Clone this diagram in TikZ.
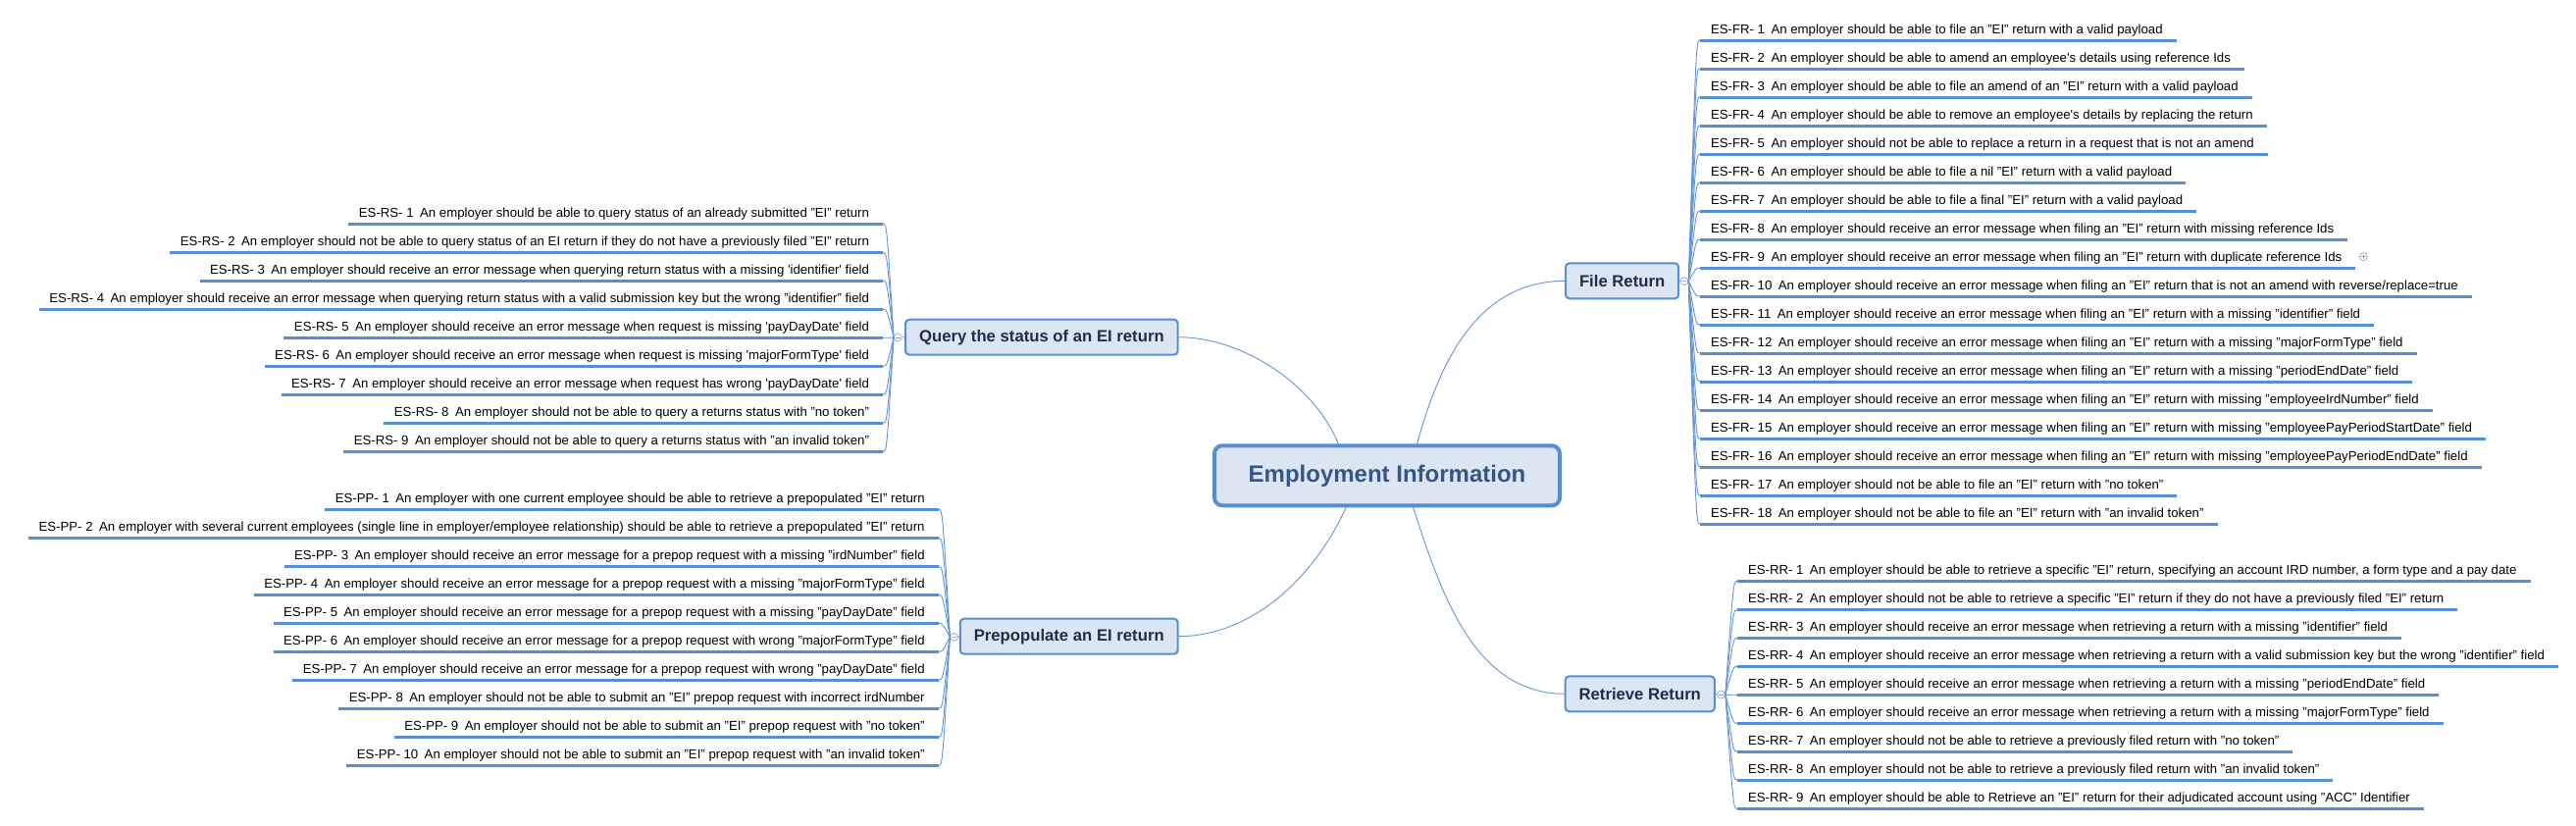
\documentclass[tikz,border=0pt]{standalone}
\usepackage{fontspec}
\setmainfont{Liberation Sans}
\usetikzlibrary{calc,backgrounds}
\definecolor{bd}{RGB}{85,142,213}
\definecolor{fillb}{RGB}{220,230,242}
\definecolor{lnblue}{RGB}{100,148,218}
\definecolor{roottxt}{RGB}{54,85,135}
\definecolor{brtxt}{RGB}{30,45,75}
\definecolor{circ}{RGB}{140,165,205}
\newcommand\sqt{\textquotesingle}
\tikzset{
  itemtext/.style={inner xsep=0pt, inner ysep=0pt, outer sep=0pt, text depth=7pt,
    font=\fontsize{13.2}{15}\selectfont, text=black},
  uline/.style={draw=bd, line width=3pt},
  leaf/.style={draw=lnblue, line width=0.9pt},
  branchbox/.style={draw=bd, line width=2pt, fill=fillb, rounded corners=4pt,
    inner xsep=14pt, minimum height=36pt, outer sep=0pt,
    font=\fontsize{16.7}{20}\selectfont\bfseries, text=brtxt},
  rootbox/.style={draw=bd, line width=4pt, fill=fillb, rounded corners=8pt,
    minimum width=352pt, minimum height=61pt, outer sep=0pt,
    font=\fontsize{24}{28}\selectfont\bfseries, text=roottxt},
  fold/.style={circle, draw=circ, fill=white, line width=0.7pt, minimum size=8pt, inner sep=0pt,
    path picture={\draw[circ, line width=0.7pt] ([xshift=-2.2pt]path picture bounding box.center) -- ([xshift=2.2pt]path picture bounding box.center);}},
  foldplus/.style={circle, draw=circ, fill=white, line width=0.7pt, minimum size=8pt, inner sep=0pt,
    path picture={\draw[circ, line width=0.7pt] ([xshift=-2.2pt]path picture bounding box.center) -- ([xshift=2.2pt]path picture bounding box.center) ([yshift=-2.2pt]path picture bounding box.center) -- ([yshift=2.2pt]path picture bounding box.center);}},
}
\begin{document}
\begin{tikzpicture}[x=1pt,y=-1pt]
\useasboundingbox (0,0) rectangle (2626,841);

% central and main topics
\node[rootbox] (root) at (1414,484.8) {Employment Information};
\node[branchbox, anchor=east] (qs) at (1200.7,343.7) {Query the status of an EI return};
\node[branchbox, anchor=east] (pp) at (1200.7,648.7) {Prepopulate an EI return};
\node[branchbox, anchor=west] (fr) at (1596,286.3) {File Return};
\node[branchbox, anchor=west] (rr) at (1595.6,707.3) {Retrieve Return};

% fold markers
\node[fold] (qsf) at (915.3,344) {};
\node[fold] (ppf) at (972.7,649.3) {};
\node[fold] (frf) at (1717,286.7) {};
\node[fold] (rrf) at (1754.5,708) {};
\draw[leaf] (qsf) -- (qs.west);
\draw[leaf] (ppf) -- (pp.west);
\draw[leaf] (frf) -- (fr.east);
\draw[leaf] (rrf) -- (rr.east);

\begin{scope}[on background layer]
\fill[white] (0,0) rectangle (2626,841);
\draw[leaf] ([xshift=30pt]root.north) .. controls +(22,-80) and +(-93,0) .. (fr.west);
\draw[leaf] ([xshift=-49pt]root.north) .. controls +(-23,-60) and +(68,0) .. (qs.east);
\draw[leaf] ([xshift=-41pt]root.south) .. controls +(-31,70) and +(78,0) .. (pp.east);
\draw[leaf] ([xshift=26pt]root.south) .. controls +(29,90) and +(-93,0) .. (rr.west);
\end{scope}

% File Return items
\foreach \t [count=\k] in {
 {An employer should be able to file an "EI" return with a valid payload},
 {An employer should be able to amend an employee\sqt s details using reference Ids},
 {An employer should be able to file an amend of an "EI" return with a valid payload},
 {An employer should be able to remove an employee\sqt s details by replacing the return},
 {An employer should not be able to replace a return in a request that is not an amend},
 {An employer should be able to file a nil "EI" return with a valid payload},
 {An employer should be able to file a final "EI" return with a valid payload},
 {An employer should receive an error message when filing an "EI" return with missing reference Ids},
 {An employer should receive an error message when filing an "EI" return with duplicate reference Ids},
 {An employer should receive an error message when filing an "EI" return that is not an amend with reverse/replace=true},
 {An employer should receive an error message when filing an "EI" return with a missing "identifier" field},
 {An employer should receive an error message when filing an "EI" return with a missing "majorFormType" field},
 {An employer should receive an error message when filing an "EI" return with a missing "periodEndDate" field},
 {An employer should receive an error message when filing an "EI" return with missing "employeeIrdNumber" field},
 {An employer should receive an error message when filing an "EI" return with missing "employeePayPeriodStartDate" field},
 {An employer should receive an error message when filing an "EI" return with missing "employeePayPeriodEndDate" field},
 {An employer should not be able to file an "EI" return with "no token"},
 {An employer should not be able to file an "EI" return with "an invalid token"}} {
  \node[itemtext, anchor=base west] (fr\k) at (1744,{34+29*(\k-1)}) {ES-FR-\ \k\hspace{6.5pt}\t};
  \draw[uline] ([xshift=-11pt]fr\k.south west) -- ([xshift=14pt]fr\k.south east);
  \draw[leaf] (frf.east) .. controls ([xshift=-15pt]fr\k.south west) and ([xshift=-15pt]fr\k.south west) .. ([xshift=-11pt]fr\k.south west);
}
\node[foldplus] (fr9p) at ([xshift=22pt,yshift=4.3pt]fr9.base east) {};

% Retrieve Return items
\foreach \t [count=\k] in {
 {An employer should be able to retrieve a specific "EI" return, specifying an account IRD number, a form type and a pay date},
 {An employer should not be able to retrieve a specific "EI" return if they do not have a previously filed "EI" return},
 {An employer should receive an error message when retrieving a return with a missing "identifier" field},
 {An employer should receive an error message when retrieving a return with a valid submission key but the wrong "identifier" field},
 {An employer should receive an error message when retrieving a return with a missing "periodEndDate" field},
 {An employer should receive an error message when retrieving a return with a missing "majorFormType" field},
 {An employer should not be able to retrieve a previously filed return with "no token"},
 {An employer should not be able to retrieve a previously filed return with "an invalid token"},
 {An employer should be able to Retrieve an "EI" return for their adjudicated account using "ACC" Identifier}} {
  \node[itemtext, anchor=base west] (rr\k) at (1782,{585.3+29*(\k-1)}) {ES-RR-\ \k\hspace{6.5pt}\t};
  \draw[uline] ([xshift=-11pt]rr\k.south west) -- ([xshift=14pt]rr\k.south east);
  \draw[leaf] (rrf.east) .. controls ([xshift=-15pt]rr\k.south west) and ([xshift=-15pt]rr\k.south west) .. ([xshift=-11pt]rr\k.south west);
}

% Query status items
\foreach \t [count=\k] in {
 {An employer should be able to query status of an already submitted "EI" return},
 {An employer should not be able to query status of an EI return if they do not have a previously filed "EI" return},
 {An employer should receive an error message when querying return status with a missing \sqt identifier\sqt\ field},
 {An employer should receive an error message when querying return status with a valid submission key but the wrong "identifier" field},
 {An employer should receive an error message when request is missing \sqt payDayDate\sqt\ field},
 {An employer should receive an error message when request is missing \sqt majorFormType\sqt\ field},
 {An employer should receive an error message when request has wrong \sqt payDayDate\sqt\ field},
 {An employer should not be able to query a returns status with "no token"},
 {An employer should not be able to query a returns status with "an invalid token"}} {
  \node[itemtext, anchor=base east] (rs\k) at (886,{221.3+29*(\k-1)}) {ES-RS-\ \k\hspace{6.5pt}\t};
  \draw[uline] ([xshift=-10.5pt]rs\k.south west) -- ([xshift=14pt]rs\k.south east);
  \draw[leaf] (qsf.west) .. controls ([xshift=18pt]rs\k.south east) and ([xshift=18pt]rs\k.south east) .. ([xshift=14pt]rs\k.south east);
}

% Prepopulate items
\foreach \t [count=\k] in {
 {An employer with one current employee should be able to retrieve a prepopulated "EI" return},
 {An employer with several current employees (single line in employer/employee relationship) should be able to retrieve a prepopulated "EI" return},
 {An employer should receive an error message for a prepop request with a missing "irdNumber" field},
 {An employer should receive an error message for a prepop request with a missing "majorFormType" field},
 {An employer should receive an error message for a prepop request with a missing "payDayDate" field},
 {An employer should receive an error message for a prepop request with wrong "majorFormType" field},
 {An employer should receive an error message for a prepop request with wrong "payDayDate" field},
 {An employer should not be able to submit an "EI" prepop request with incorrect irdNumber},
 {An employer should not be able to submit an "EI" prepop request with "no token"},
 {An employer should not be able to submit an "EI" prepop request with "an invalid token"}} {
  \node[itemtext, anchor=base east] (pp\k) at (942.7,{512.3+29*(\k-1)}) {ES-PP-\ \k\hspace{6.5pt}\t};
  \draw[uline] ([xshift=-10.5pt]pp\k.south west) -- ([xshift=14pt]pp\k.south east);
  \draw[leaf] (ppf.west) .. controls ([xshift=18pt]pp\k.south east) and ([xshift=18pt]pp\k.south east) .. ([xshift=14pt]pp\k.south east);
}
\end{tikzpicture}
\end{document}
